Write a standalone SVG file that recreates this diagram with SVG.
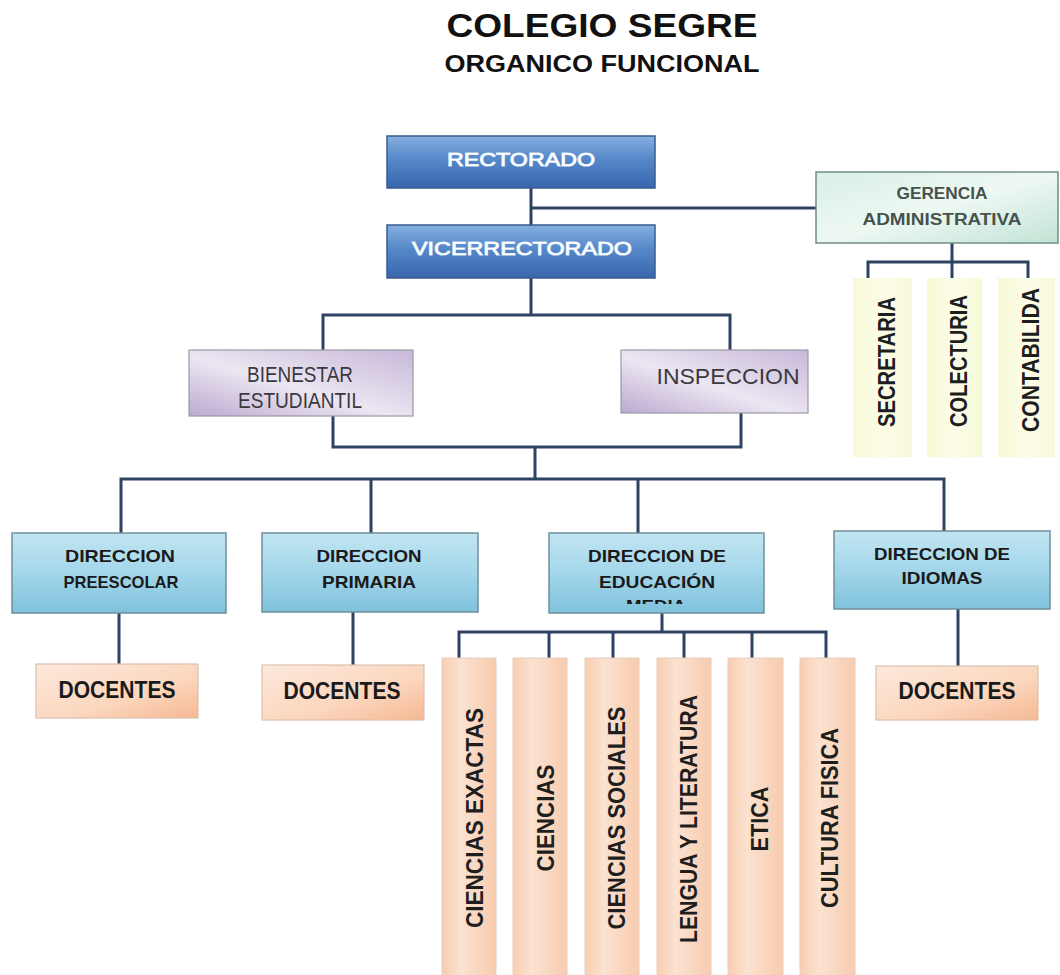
<svg xmlns="http://www.w3.org/2000/svg" width="1060" height="975" viewBox="0 0 1060 975">
<defs>
  <linearGradient id="gBlue" x1="0" y1="0" x2="0" y2="1">
    <stop offset="0" stop-color="#86afe0"/>
    <stop offset="0.45" stop-color="#5588c9"/>
    <stop offset="1" stop-color="#3866ad"/>
  </linearGradient>
  <linearGradient id="gCyan" x1="0" y1="0" x2="0" y2="1">
    <stop offset="0" stop-color="#c2e6f2"/>
    <stop offset="0.5" stop-color="#a3d6ea"/>
    <stop offset="1" stop-color="#7fc2dc"/>
  </linearGradient>
  <linearGradient id="gGreen" x1="0" y1="0" x2="1" y2="1">
    <stop offset="0" stop-color="#d9efe6"/>
    <stop offset="0.5" stop-color="#eef8f3"/>
    <stop offset="1" stop-color="#c2e3d5"/>
  </linearGradient>
  <linearGradient id="gPurple" x1="0" y1="1" x2="1" y2="0">
    <stop offset="0" stop-color="#bba9d0"/>
    <stop offset="0.45" stop-color="#ece6f2"/>
    <stop offset="1" stop-color="#c7b8d9"/>
  </linearGradient>
  <linearGradient id="gPeach" x1="0" y1="0" x2="1" y2="1">
    <stop offset="0" stop-color="#fde9dc"/>
    <stop offset="0.6" stop-color="#fbd6bd"/>
    <stop offset="1" stop-color="#f6b892"/>
  </linearGradient>
  <linearGradient id="gPeachV" x1="0" y1="0" x2="1" y2="0">
    <stop offset="0" stop-color="#f8cdb0"/>
    <stop offset="0.35" stop-color="#fbe2d1"/>
    <stop offset="1" stop-color="#f7cbad"/>
  </linearGradient>
  <linearGradient id="gYellow" x1="0" y1="0" x2="1" y2="0">
    <stop offset="0" stop-color="#f7f9d6"/>
    <stop offset="0.5" stop-color="#fcfde8"/>
    <stop offset="1" stop-color="#f7f9d8"/>
  </linearGradient>
  <clipPath id="clipMedia">
    <rect x="549" y="533" width="215" height="71"/>
  </clipPath>
</defs>
<style>
  text { font-family: "Liberation Sans", Arial, sans-serif; }
  .conn { fill: none; stroke: #2e4262; stroke-width: 3; stroke-linecap: square; }
  .blue { fill: url(#gBlue); stroke: #3a5b8c; stroke-width: 1.5; }
  .cyan { fill: url(#gCyan); stroke: #6f8f9b; stroke-width: 1.5; }
  .green { fill: url(#gGreen); stroke: #6f8f84; stroke-width: 1.5; }
  .purple { fill: url(#gPurple); stroke: #9a98a4; stroke-width: 1.2; }
  .peach { fill: url(#gPeach); stroke: #dcc0ae; stroke-width: 1.2; }
  .peachv { fill: url(#gPeachV); stroke: #e6cfc0; stroke-width: 1; }
  .yellow { fill: url(#gYellow); stroke: none; }
  .title { font-weight: bold; fill: #111; text-anchor: middle; }
  .wt { fill: #ffffff; stroke: #d6e4f6; stroke-width: 1; paint-order: stroke; font-size: 19px; text-anchor: middle; }
  .gt { fill: #45524e; font-weight: bold; font-size: 16px; text-anchor: middle; }
  .pt { fill: #3a3a3e; font-size: 22px; text-anchor: middle; }
  .dt { fill: #1a1a1a; font-weight: bold; font-size: 17px; text-anchor: middle; }
  .doc { fill: #1a1a1a; font-weight: bold; font-size: 23px; text-anchor: middle; }
  .vt { fill: #1e1e1e; font-weight: bold; font-size: 24px; text-anchor: middle; }
</style>
<rect width="1060" height="975" fill="#ffffff"/>

<g id="title">
  <text class="title" x="602" y="37" font-size="33" textLength="311" lengthAdjust="spacingAndGlyphs">COLEGIO SEGRE</text>
  <text class="title" x="602" y="72" font-size="24" textLength="315" lengthAdjust="spacingAndGlyphs">ORGANICO FUNCIONAL</text>
</g>

<g id="connectors">
  <path class="conn" d="M531,188V225 M531,208H816 M531,278V315 M323,315H730 M323,315V350 M730,315V350 M333,416V447 M741,413V447 M333,447H741 M535,447V479 M121,479H944 M121,479V533 M371,479V533 M638,479V533 M944,479V531 M119,613V664 M353,612V665 M958,609V666 M662,613V632 M459,632H826 M459,632V658 M549,632V658 M613,632V658 M684,632V658 M752,632V658 M826,632V658 M952,243V278 M868,262H1028 M868,262V278 M1028,262V278"/>
</g>

<g id="rectorado">
  <rect class="blue" x="387" y="136" width="268" height="52"/>
  <text class="wt" x="521" y="166" textLength="148" lengthAdjust="spacingAndGlyphs">RECTORADO</text>
</g>
<g id="vicerrectorado">
  <rect class="blue" x="387" y="225" width="268" height="53"/>
  <text class="wt" x="522" y="255" font-size="20" textLength="220" lengthAdjust="spacingAndGlyphs">VICERRECTORADO</text>
</g>

<g id="gerencia">
  <rect class="green" x="816" y="172" width="242" height="71"/>
  <text class="gt" x="942" y="199" textLength="91" lengthAdjust="spacingAndGlyphs">GERENCIA</text>
  <text class="gt" x="942" y="225" textLength="159" lengthAdjust="spacingAndGlyphs">ADMINISTRATIVA</text>
</g>

<g id="secretaria">
  <rect class="yellow" x="853" y="278" width="59" height="179"/>
  <text class="vt" transform="translate(895,362) rotate(-90)" textLength="130" lengthAdjust="spacingAndGlyphs">SECRETARIA</text>
</g>
<g id="colecturia">
  <rect class="yellow" x="927" y="278" width="55" height="179"/>
  <text class="vt" transform="translate(967,361) rotate(-90)" textLength="132" lengthAdjust="spacingAndGlyphs">COLECTURIA</text>
</g>
<g id="contabilidad">
  <rect class="yellow" x="998" y="278" width="57" height="179"/>
  <text class="vt" transform="translate(1039,360) rotate(-90)" textLength="144" lengthAdjust="spacingAndGlyphs">CONTABILIDA</text>
</g>

<g id="bienestar">
  <rect class="purple" x="189" y="350" width="224" height="66"/>
  <text class="pt" x="300" y="382" textLength="106" lengthAdjust="spacingAndGlyphs">BIENESTAR</text>
  <text class="pt" x="300" y="408" textLength="124" lengthAdjust="spacingAndGlyphs">ESTUDIANTIL</text>
</g>
<g id="inspeccion">
  <rect class="purple" x="621" y="350" width="187" height="63"/>
  <text class="pt" x="728" y="384" textLength="143" lengthAdjust="spacingAndGlyphs">INSPECCION</text>
</g>

<g id="dir-preescolar">
  <rect class="cyan" x="12" y="533" width="214" height="80"/>
  <text class="dt" x="120" y="562" textLength="110" lengthAdjust="spacingAndGlyphs">DIRECCION</text>
  <text class="dt" x="121" y="588" textLength="115" lengthAdjust="spacingAndGlyphs">PREESCOLAR</text>
</g>
<g id="dir-primaria">
  <rect class="cyan" x="262" y="533" width="216" height="79"/>
  <text class="dt" x="369" y="562" textLength="105" lengthAdjust="spacingAndGlyphs">DIRECCION</text>
  <text class="dt" x="369" y="588" textLength="94" lengthAdjust="spacingAndGlyphs">PRIMARIA</text>
</g>
<g id="dir-media">
  <rect class="cyan" x="549" y="533" width="215" height="80"/>
  <text class="dt" x="657" y="562" textLength="138" lengthAdjust="spacingAndGlyphs">DIRECCION DE</text>
  <text class="dt" x="657" y="588" textLength="116" lengthAdjust="spacingAndGlyphs">EDUCACIÓN</text>
  <text class="dt" x="656" y="612" textLength="60" lengthAdjust="spacingAndGlyphs" clip-path="url(#clipMedia)">MEDIA</text>
</g>
<g id="dir-idiomas">
  <rect class="cyan" x="834" y="531" width="216" height="78"/>
  <text class="dt" x="942" y="560" textLength="136" lengthAdjust="spacingAndGlyphs">DIRECCION DE</text>
  <text class="dt" x="942" y="584" textLength="81" lengthAdjust="spacingAndGlyphs">IDIOMAS</text>
</g>

<g id="docentes-1">
  <rect class="peach" x="36" y="664" width="162" height="54"/>
  <text class="doc" x="117" y="698" textLength="117" lengthAdjust="spacingAndGlyphs">DOCENTES</text>
</g>
<g id="docentes-2">
  <rect class="peach" x="262" y="665" width="162" height="55"/>
  <text class="doc" x="342" y="699" textLength="117" lengthAdjust="spacingAndGlyphs">DOCENTES</text>
</g>
<g id="docentes-3">
  <rect class="peach" x="876" y="666" width="162" height="54"/>
  <text class="doc" x="957" y="699" textLength="117" lengthAdjust="spacingAndGlyphs">DOCENTES</text>
</g>

<g id="ciencias-exactas">
  <rect class="peachv" x="442" y="658" width="54" height="330"/>
  <text class="vt" transform="translate(483,818) rotate(-90)" textLength="220" lengthAdjust="spacingAndGlyphs">CIENCIAS EXACTAS</text>
</g>
<g id="ciencias">
  <rect class="peachv" x="513" y="658" width="54" height="330"/>
  <text class="vt" transform="translate(554,818) rotate(-90)" textLength="107" lengthAdjust="spacingAndGlyphs">CIENCIAS</text>
</g>
<g id="ciencias-sociales">
  <rect class="peachv" x="585" y="658" width="54" height="330"/>
  <text class="vt" transform="translate(625,818) rotate(-90)" textLength="223" lengthAdjust="spacingAndGlyphs">CIENCIAS SOCIALES</text>
</g>
<g id="lengua">
  <rect class="peachv" x="657" y="658" width="54" height="330"/>
  <text class="vt" transform="translate(697,819) rotate(-90)" textLength="248" lengthAdjust="spacingAndGlyphs">LENGUA Y LITERATURA</text>
</g>
<g id="etica">
  <rect class="peachv" x="728" y="658" width="55" height="330"/>
  <text class="vt" transform="translate(768,819) rotate(-90)" textLength="65" lengthAdjust="spacingAndGlyphs">ETICA</text>
</g>
<g id="cultura-fisica">
  <rect class="peachv" x="800" y="658" width="55" height="330"/>
  <text class="vt" transform="translate(838,818) rotate(-90)" textLength="180" lengthAdjust="spacingAndGlyphs">CULTURA FISICA</text>
</g>
</svg>
